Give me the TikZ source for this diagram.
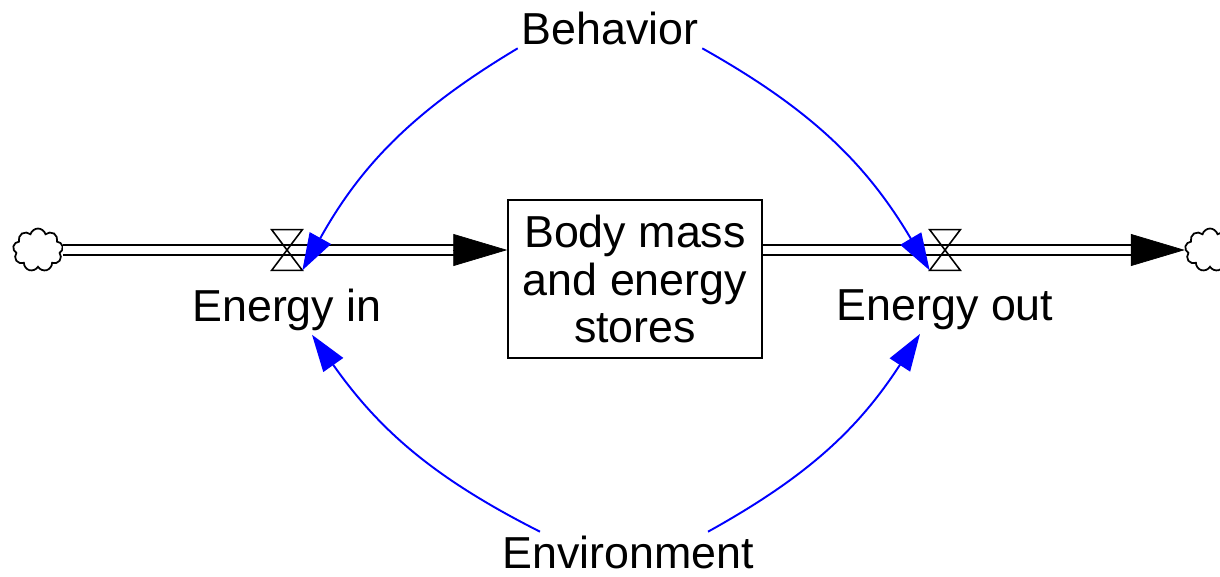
\documentclass[tikz,border=0pt]{standalone}
\usepackage{fontspec}
\setmainfont{Liberation Sans}
\usetikzlibrary{arrows.meta,shapes.symbols,calc}

\begin{document}
\begin{tikzpicture}[x=0.02cm,y=-0.02cm,
    lbl/.style={font=\fontsize{25.5}{27.3}\selectfont,inner sep=2pt},
    stockbox/.style={lbl,draw,line width=0.9pt,minimum width=5.08cm,minimum height=3.16cm,align=center},
    sink/.style={cloud,cloud puffs=9,draw,line width=1pt,minimum width=1.0cm,minimum height=0.86cm,inner sep=0pt,aspect=1.15},
    pipe/.style={line width=1.1pt,double,double distance=0.16cm},
    flowtip/.style={-{Triangle[length=1.08cm,width=0.64cm]}},
    valve/.style={minimum width=0.6cm,minimum height=0.8cm,inner sep=0pt},
    link/.style={blue,line width=1.1pt,-{Triangle[length=0.74cm,width=0.48cm]}}]
    \useasboundingbox (0,0) rectangle (1220,576);
    % Stock and clouds
    \node[stockbox] (box) at (635,279) {Body mass\\and energy\\stores};
    \node[sink] (srcL) at (38,250) {};
    \node[sink] (sinkR) at (1210,250) {};
    % Valves
    \node[valve] (vin) at (287,250) {};
    \node[valve] (vout) at (945,250) {};
    % Flows
    \draw[pipe,shorten >=0.9cm] (srcL.east) -- (srcL.east -| box.west);
    \draw[flowtip] ($(srcL.east -| box.west)+(-4,0)$) -- (srcL.east -| box.west);
    \draw[pipe,shorten >=0.9cm] (sinkR.west -| box.east) -- (sinkR.west);
    \draw[flowtip] ($(sinkR.west)+(-4,0)$) -- (sinkR.west);
    \foreach \v in {vin,vout} {
      \draw[line width=0.9pt] (\v.north west) -- (\v.north east) -- (\v.south west) -- (\v.south east) -- cycle;
    }
    % Labels
    \node[lbl] (ein) at (287,310) {Energy in};
    \node[lbl] (eout) at (945,310) {Energy out};
    \node[lbl] (beh) at (610,28) {Behavior};
    \node[lbl] (env) at (628,552) {Environment};
    % Links
    \draw[link] (beh.south west) to[bend right=15] (vin.south east);
    \draw[link] (beh.south east) to[bend left=15] (vout.south west);
    \draw[link] ($(env.north)+(-88,0)$) to[bend left=14] ($(ein.south)+(25,0)$);
    \draw[link] ($(env.north)+(80,0)$) to[bend right=14] ($(eout.south)+(-25,0)$);
  \end{tikzpicture}
\end{document}
